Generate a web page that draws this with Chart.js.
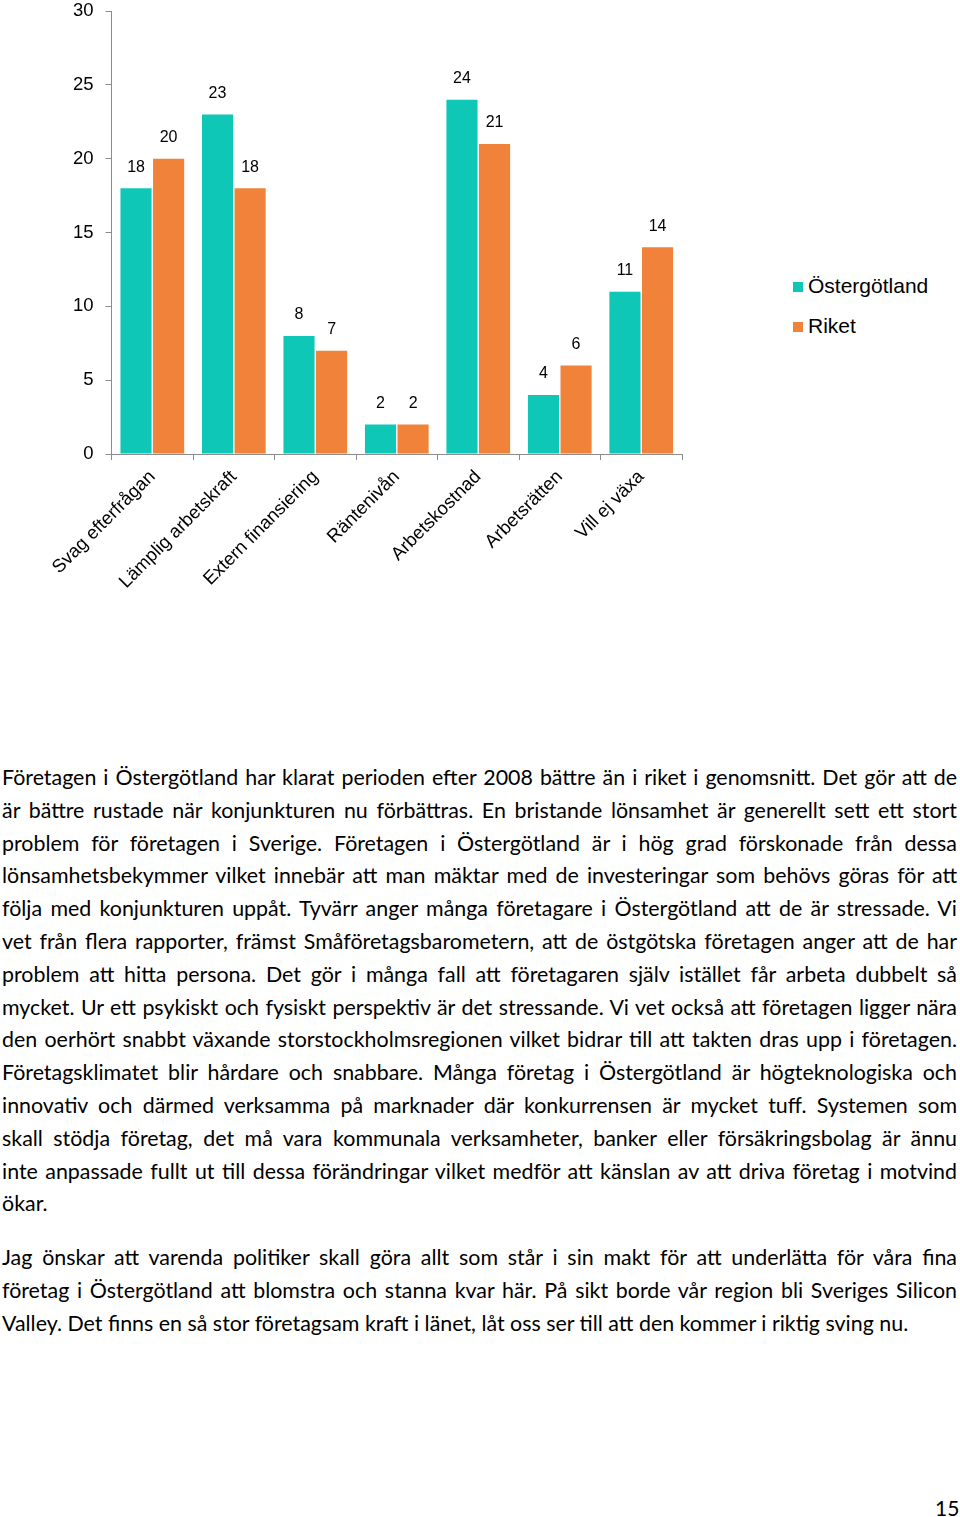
<!DOCTYPE html>
<html>
<head>
<meta charset="utf-8">
<script src="https://cdn.jsdelivr.net/npm/chart.js@4"></script>
<style>
  body { margin: 0; background: #fff; width: 960px; height: 1517px; position: relative; overflow: hidden; }
  #wrap { position: absolute; left: 0; top: -12px; width: 700px; height: 611px; }
  #legend { position: absolute; left: 793px; top: 274px; font-family: "Liberation Sans", Arial, sans-serif; font-size: 21px; color: #000; }
  #legend div { height: 40px; line-height: 24px; }
  #legend span.box { display: inline-block; width: 10px; height: 10px; margin-right: 5px; vertical-align: 1px; }
  #text { position: absolute; left: 2px; top: 761px; width: 955px; font-family: "Lato", "Open Sans", sans-serif; font-size: 21.4px; color: #000; }
  #text div { height: 32.8px; line-height: 32.8px; text-align: justify; text-align-last: justify; white-space: nowrap; }
  #text div.last { text-align-last: left; }
  #text .gap { height: 21px; }
  #page { position: absolute; left: 935px; top: 1495px; font-family: "Lato", sans-serif; font-size: 21px; }
</style>
</head>
<body>
<div id="wrap"><canvas id="myChart"></canvas></div>
<div id="legend"></div>
<div id="text"></div>
<div id="page">15</div>
<script>
var categories = ['Svag efterfrågan', 'Lämplig arbetskraft', 'Extern finansiering', 'Räntenivån', 'Arbetskostnad', 'Arbetsrätten', 'Vill ej växa'];
var ostergotland = [18, 23, 8, 2, 24, 4, 11];
var riket = [20, 18, 7, 2, 21, 6, 14];
var seriesNames = ['Östergötland', 'Riket'];
var seriesColors = ['#0fc7b7', '#f0823a'];

var lines1 = [
  'Företagen i Östergötland har klarat perioden efter 2008 bättre än i riket i genomsnitt. Det gör att de',
  'är bättre rustade när konjunkturen nu förbättras. En bristande lönsamhet är generellt sett ett stort',
  'problem för företagen i Sverige. Företagen i Östergötland är i hög grad förskonade från dessa',
  'lönsamhetsbekymmer vilket innebär att man mäktar med de investeringar som behövs göras för att',
  'följa med konjunkturen uppåt. Tyvärr anger många företagare i Östergötland att de är stressade.  Vi',
  'vet från flera rapporter, främst Småföretagsbarometern, att de östgötska företagen anger att de har',
  'problem att hitta persona. Det gör i många fall att företagaren själv istället får arbeta dubbelt så',
  'mycket. Ur ett psykiskt och fysiskt perspektiv är det stressande. Vi vet också att företagen ligger nära',
  'den oerhört snabbt växande storstockholmsregionen vilket bidrar till att takten dras upp i företagen.',
  'Företagsklimatet blir hårdare och snabbare. Många företag i Östergötland är högteknologiska och',
  'innovativ och därmed verksamma på marknader där konkurrensen är mycket tuff.  Systemen som',
  'skall stödja företag, det må vara kommunala verksamheter, banker eller försäkringsbolag är ännu',
  'inte anpassade fullt ut till dessa förändringar vilket medför att känslan av att driva företag i motvind',
  'ökar.'
];
var lines2 = [
  'Jag önskar att varenda politiker skall göra allt som står i sin makt för att underlätta för våra fina',
  'företag i Östergötland att blomstra och stanna kvar här. På sikt borde vår region bli Sveriges Silicon',
  'Valley. Det finns en så stor företagsam kraft i länet, låt oss ser till att den kommer i riktig sving nu.'
];

//Text
function addLines(lines) {
  var box = document.getElementById('text');
  lines.forEach(function (t, i) {
    var d = document.createElement('div');
    d.textContent = t;
    if (i == lines.length - 1) d.className = 'last';
    box.appendChild(d);
  });
}
addLines(lines1);
var g = document.createElement('div');
g.className = 'gap';
document.getElementById('text').appendChild(g);
addLines(lines2);

//Legend
seriesNames.forEach(function (name, i) {
  var el = document.createElement('div');
  el.innerHTML = '<span class="box" style="background:' + seriesColors[i] + '"></span>' + name;
  document.getElementById('legend').appendChild(el);
});

//Värden ovanför staplarna
var valueLabels = {
  id: 'valueLabels',
  afterDatasetsDraw: function (chart) {
    var ctx = chart.ctx;
    ctx.save();
    ctx.font = '16px "Liberation Sans", Arial, sans-serif';
    ctx.fillStyle = '#000';
    ctx.textAlign = 'center';
    ctx.textBaseline = 'middle';
    chart.data.datasets.forEach(function (ds, i) {
      chart.getDatasetMeta(i).data.forEach(function (bar, j) {
        ctx.fillText(ds.data[j], bar.x, bar.y - 21);
      });
    });
    ctx.restore();
  }
};

var axisColor = '#8c8c8c';
var font = { family: '"Liberation Sans", Arial, sans-serif', size: 18.5 };

new Chart(document.getElementById('myChart'), {
  type: 'bar',
  data: {
    labels: categories,
    datasets: [
      { label: seriesNames[0], data: ostergotland, backgroundColor: seriesColors[0] },
      { label: seriesNames[1], data: riket, backgroundColor: seriesColors[1] }
    ]
  },
  options: {
    responsive: true,
    maintainAspectRatio: false,
    animation: false,
    categoryPercentage: 0.8,
    barPercentage: 0.955,
    layout: { padding: { top: 1, right: 18, left: 61 } },
    plugins: {
      legend: { display: false },
      tooltip: { enabled: false }
    },
    scales: {
      x: {
        grid: { drawOnChartArea: false, color: axisColor, tickLength: 6 },
        border: { color: axisColor },
        ticks: { color: '#000', font: font, minRotation: 45, maxRotation: 45, padding: 6, autoSkip: false }
      },
      y: {
        min: 0,
        max: 30,
        grid: { drawOnChartArea: false, color: axisColor, tickLength: 6 },
        border: { color: axisColor },
        ticks: { stepSize: 5, color: '#000', font: font, padding: 12 }
      }
    }
  },
  plugins: [valueLabels]
});
</script>
</body>
</html>
